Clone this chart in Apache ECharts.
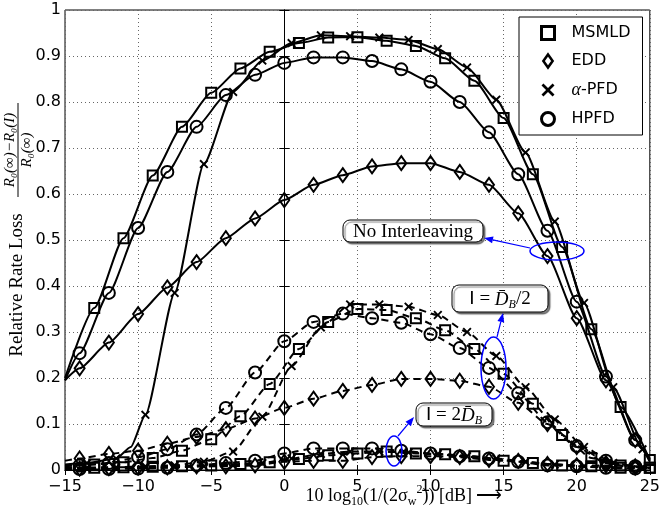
<!DOCTYPE html>
<html>
<head>
<meta charset="utf-8">
<script src="https://cdn.jsdelivr.net/npm/echarts@6/dist/echarts.min.js"></script>
<style>
  html, body { margin: 0; background: #fff; }
  #chart { width: 663px; height: 520px; }
</style>
</head>
<body>
<div id="chart"></div>
<script>
// x positions (dB) of the sampled points
var xOdd = [-15,-13,-11,-9,-7,-5,-3,-1,1,3,5,7,9,11,13,15,17,19,21,23,25];
var xEven = [-15,-14,-12,-10,-8,-6,-4,-2,0,2,4,6,8,10,12,14,16,18,20,22,24,25];
var xHalf = [-15,-13.5,-11.5,-9.5,-7.5,-5.5,-3.5,-1.5,0.5,2.5,4.5,6.5,8.5,10.5,12.5,14.5,16.5,18.5,20.5,22.5,24.5,25];
var xApfdNoInt = [-15,-13.5,-11.5,-10.5,-9.5,-7.5,-5.5,-3.5,-1.5,0.5,2.5,4.5,6.5,8.5,10.5,12.5,14.5,16.5,18.5,20.5,22.5,24.5,25];

// no interleaving (solid)
var msmldNoInt = [0.20,0.352,0.504,0.64,0.746,0.82,0.873,0.909,0.928,0.94,0.941,0.933,0.922,0.895,0.846,0.765,0.643,0.485,0.306,0.137,0.022];
var eddNoInt = [0.195,0.221,0.277,0.339,0.397,0.452,0.504,0.547,0.587,0.62,0.641,0.66,0.667,0.667,0.648,0.62,0.558,0.465,0.33,0.195,0.065,0.02];
var hpfdNoInt = [0.195,0.254,0.385,0.526,0.648,0.746,0.815,0.859,0.885,0.897,0.897,0.889,0.871,0.844,0.8,0.734,0.643,0.52,0.366,0.203,0.065,0.018];
var apfdNoInt = [0.012,0.015,0.025,0.05,0.12,0.385,0.665,0.822,0.89,0.928,0.945,0.943,0.94,0.935,0.915,0.875,0.805,0.69,0.54,0.363,0.18,0.045,0.025];

// I = D/2 (dashed)
var msmldHalf = [0.01,0.012,0.017,0.026,0.042,0.067,0.117,0.187,0.263,0.322,0.35,0.348,0.33,0.304,0.263,0.209,0.144,0.076,0.026,0.01,0.005];
var eddHalf = [0.02,0.025,0.035,0.042,0.057,0.072,0.089,0.112,0.135,0.155,0.172,0.185,0.198,0.198,0.194,0.181,0.146,0.1,0.05,0.015,0.005,0.003];
var hpfdHalf = [0.008,0.01,0.015,0.028,0.045,0.077,0.135,0.212,0.28,0.322,0.34,0.33,0.32,0.295,0.265,0.222,0.167,0.104,0.052,0.02,0.008,0.005];
var apfdHalf = [0.005,0.005,0.006,0.008,0.01,0.018,0.04,0.116,0.226,0.31,0.36,0.36,0.355,0.337,0.3,0.248,0.18,0.11,0.05,0.015,0.005,0.004];

// I = 2D (dashed, near zero)
var msmldTwo = [0.005,0.005,0.006,0.007,0.008,0.01,0.013,0.017,0.024,0.032,0.036,0.04,0.036,0.034,0.03,0.02,0.015,0.01,0.008,0.005,0.005];
var eddTwo = [0.003,0.003,0.004,0.005,0.006,0.008,0.008,0.01,0.018,0.02,0.02,0.028,0.03,0.03,0.028,0.022,0.02,0.013,0.01,0.01,0.008,0.008];
var hpfdTwo = [0.002,0.002,0.002,0.003,0.005,0.01,0.015,0.02,0.036,0.047,0.047,0.047,0.042,0.036,0.03,0.025,0.018,0.01,0.008,0.005,0.003,0.003];
var apfdTwo = [0.003,0.003,0.004,0.005,0.006,0.008,0.01,0.015,0.025,0.035,0.04,0.04,0.038,0.035,0.03,0.025,0.018,0.012,0.008,0.005,0.004,0.004];

var xTicks = [-15,-10,-5,0,5,10,15,20,25];
var yTicks = [0,0.1,0.2,0.3,0.4,0.5,0.6,0.7,0.8,0.9,1];

var CROSS = 'path://M0,1.5L1.5,0L5,3.5L8.5,0L10,1.5L6.5,5L10,8.5L8.5,10L5,6.5L1.5,10L0,8.5L3.5,5Z';
var DIAMOND = 'path://M5,0L10,7L5,14L0,7Z';

function curve(name, xs, ys, offset, symbol, size, dashed) {
  var data = xs.map(function (x, i) {
    var k = (x - offset) / 2;
    var marked = x > -15 && Math.abs(k - Math.round(k)) < 1e-6;
    return marked ? [x, ys[i]] : { value: [x, ys[i]], symbol: 'none' };
  });
  var filled = symbol === CROSS;
  return {
    name: name,
    type: 'line',
    data: data,
    smooth: 0.2,
    smoothMonotone: 'x',
    symbol: symbol,
    symbolSize: size,
    showSymbol: true,
    showAllSymbol: true,
    lineStyle: { color: '#000', width: 2, type: dashed ? [7, 5] : 'solid' },
    itemStyle: {
      color: filled ? '#000' : 'rgba(0,0,0,0)',
      borderColor: '#000',
      borderWidth: filled ? 0 : 2
    },
    emphasis: { disabled: true },
    animation: false
  };
}

function arrow(x1, y1, x2, y2) {
  var a = Math.atan2(y2 - y1, x2 - x1), L = 9, W = 3.5;
  var bx = x2 - L * Math.cos(a), by = y2 - L * Math.sin(a);
  return [
    { type: 'line', z: 100, shape: { x1: x1, y1: y1, x2: bx, y2: by }, style: { stroke: '#0000ff', lineWidth: 1.2 } },
    { type: 'polygon', z: 100, shape: { points: [[x2, y2], [bx + W * Math.sin(a), by - W * Math.cos(a)], [bx - W * Math.sin(a), by + W * Math.cos(a)]] }, style: { fill: '#0000ff' } }
  ];
}

function box(x, y, w, h, text, rich) {
  return [
    { type: 'rect', z: 100, shape: { x: x, y: y, width: w, height: h, r: 7 },
      style: { fill: '#fff', stroke: '#000', lineWidth: 1, shadowColor: 'rgba(0,0,0,0.5)', shadowOffsetX: 2, shadowOffsetY: 2, shadowBlur: 1 } },
    { type: 'text', z: 101, x: x + w / 2, y: y + h / 2 + 1,
      style: { text: text, rich: rich, font: '19px "Liberation Serif"', align: 'center', verticalAlign: 'middle', fill: '#000' } }
  ];
}

function ellipse(cx, cy, rx, ry) {
  return { type: 'ellipse', z: 100, shape: { cx: cx, cy: cy, rx: rx, ry: ry }, style: { fill: 'none', stroke: '#0000ff', lineWidth: 1.5 } };
}

var boxRich = {
  i: { fontFamily: 'DejaVu Sans', fontSize: 18 },
  t: { fontFamily: 'Liberation Serif', fontSize: 19 },
  d: { fontFamily: 'Liberation Serif', fontStyle: 'italic', fontSize: 19 },
  b: { fontFamily: 'Liberation Serif', fontStyle: 'italic', fontSize: 12, verticalAlign: 'bottom', lineHeight: 22 }
};

var graphics = [].concat(
  box(343, 220, 140, 22, 'No Interleaving'),
  ellipse(557, 251, 27, 9),
  arrow(530, 248, 484, 238),
  box(452, 285, 96, 27, '{i|I}{t| = }{d|D̄}{b|B}{t|/2}', boxRich),
  ellipse(493.5, 368, 12.5, 31),
  arrow(497, 337, 503, 313),
  box(416, 403, 76, 23, '{i|I}{t| = 2}{d|D̄}{b|B}', boxRich),
  ellipse(394, 451, 8, 15),
  arrow(398, 436, 414, 417),
  [
    { type: 'text', x: 17, y: 285, rotation: Math.PI / 2,
      style: { text: 'Relative Rate Loss', font: '19px "Liberation Serif"', align: 'center', verticalAlign: 'middle', fill: '#000' } },
    { type: 'group', x: 18, y: 150, rotation: Math.PI / 2, children: [
      { type: 'text', x: 0, y: -8, style: { text: 'R₀(∞)−R₀(I)', font: 'italic 15px "Liberation Serif"', align: 'center', verticalAlign: 'middle', fill: '#000' } },
      { type: 'line', shape: { x1: -47, y1: 0, x2: 47, y2: 0 }, style: { stroke: '#000', lineWidth: 1 } },
      { type: 'text', x: 0, y: 9, style: { text: 'R₀(∞)', font: 'italic 15px "Liberation Serif"', align: 'center', verticalAlign: 'middle', fill: '#000' } }
    ] },
    { type: 'text', x: 404, y: 496,
      style: {
        text: '{a|10 log}{s|10}{a|(1/(2σ}{s|w}{p|2}{a|)) [dB] ⟶}',
        align: 'center', verticalAlign: 'middle',
        rich: {
          a: { fontFamily: 'Liberation Serif', fontSize: 18, lineHeight: 24, fill: '#000' },
          s: { fontFamily: 'Liberation Serif', fontSize: 12, lineHeight: 24, verticalAlign: 'bottom', fill: '#000' },
          p: { fontFamily: 'Liberation Serif', fontSize: 12, lineHeight: 24, verticalAlign: 'top', fill: '#000' }
        }
      } }
  ]
);

var chart = echarts.init(document.getElementById('chart'), null, { renderer: 'canvas' });

var minusFmt = function (v) { return String(v).replace('-', '−'); };
var gridLine = { show: true, lineStyle: { color: '#666', width: 1, type: [1, 3] } };

var option = {
  backgroundColor: '#fff',
  animation: false,
  grid: { left: 65, right: 9, top: 10, bottom: 50, show: true, borderColor: '#000', borderWidth: 1, backgroundColor: 'transparent' },
  legend: {
    left: 519, top: 17, orient: 'vertical',
    backgroundColor: '#fff', borderColor: '#000', borderWidth: 1,
    padding: [8, 12, 8, 21], itemGap: 12, itemWidth: 13, itemHeight: 13,
    selectedMode: false,
    textStyle: { fontFamily: 'DejaVu Sans', fontSize: 16, color: '#000', lineHeight: 16, padding: [0, 0, 0, 12],
      rich: { g: { fontFamily: 'Liberation Serif', fontStyle: 'italic', fontSize: 18, lineHeight: 16 }, n: { fontFamily: 'DejaVu Sans', fontSize: 16, lineHeight: 16 } } },
    formatter: function (n) { return n === 'α-PFD' ? '{g|α}{n|-PFD}' : n; },
    data: [
      { name: 'MSMLD', icon: 'rect', itemStyle: { color: '#fff', borderColor: '#000', borderWidth: 3 } },
      { name: 'EDD', icon: DIAMOND, itemStyle: { color: '#fff', borderColor: '#000', borderWidth: 2.5 } },
      { name: 'α-PFD', icon: CROSS, itemStyle: { color: '#000', borderWidth: 0 } },
      { name: 'HPFD', icon: 'circle', itemStyle: { color: '#fff', borderColor: '#000', borderWidth: 3 } }
    ]
  },
  xAxis: [
    { type: 'value', min: xTicks[0], max: xTicks[xTicks.length - 1], interval: 5,
      axisLine: { lineStyle: { color: '#000', width: 1 } },
      axisTick: { inside: true, length: 5, lineStyle: { color: '#000' } },
      axisLabel: { color: '#000', fontFamily: 'DejaVu Sans', fontSize: 16, margin: 9, formatter: minusFmt },
      splitLine: gridLine },
    { type: 'value', position: 'top', min: xTicks[0], max: xTicks[xTicks.length - 1], interval: 5,
      axisLine: { lineStyle: { color: '#000' } }, axisTick: { inside: true, length: 5, lineStyle: { color: '#000' } },
      axisLabel: { show: false }, splitLine: { show: false } }
  ],
  yAxis: [
    { type: 'value', min: yTicks[0], max: yTicks[yTicks.length - 1], interval: 0.1,
      axisLine: { show: true, lineStyle: { color: '#000', width: 1 } },
      axisTick: { show: true, inside: true, length: 5, lineStyle: { color: '#000' } },
      axisLabel: { color: '#000', fontFamily: 'DejaVu Sans', fontSize: 16, margin: 4 },
      splitLine: gridLine },
    { type: 'value', position: 'right', min: yTicks[0], max: yTicks[yTicks.length - 1], interval: 0.1,
      axisLine: { show: true, lineStyle: { color: '#000' } }, axisTick: { show: true, inside: true, length: 5, lineStyle: { color: '#000' } },
      axisLabel: { show: false }, splitLine: { show: false } }
  ],
  series: [
    curve('MSMLD', xOdd, msmldNoInt, 1, 'rect', 10, false),
    curve('EDD', xEven, eddNoInt, 0, DIAMOND, [10, 14], false),
    curve('α-PFD', xApfdNoInt, apfdNoInt, 0.5, CROSS, 9, false),
    curve('HPFD', xEven, hpfdNoInt, 0, 'circle', 12, false),
    curve('MSMLD', xOdd, msmldHalf, 1, 'rect', 10, true),
    curve('EDD', xEven, eddHalf, 0, DIAMOND, [10, 14], true),
    curve('α-PFD', xHalf, apfdHalf, 0.5, CROSS, 9, true),
    curve('HPFD', xEven, hpfdHalf, 0, 'circle', 12, true),
    curve('MSMLD', xOdd, msmldTwo, 1, 'rect', 10, true),
    curve('EDD', xEven, eddTwo, 0, DIAMOND, [10, 14], true),
    curve('α-PFD', xHalf, apfdTwo, 0.5, CROSS, 9, true),
    curve('HPFD', xEven, hpfdTwo, 0, 'circle', 12, true)
  ],
  graphic: graphics
};

chart.setOption(option);
</script>
</body>
</html>
